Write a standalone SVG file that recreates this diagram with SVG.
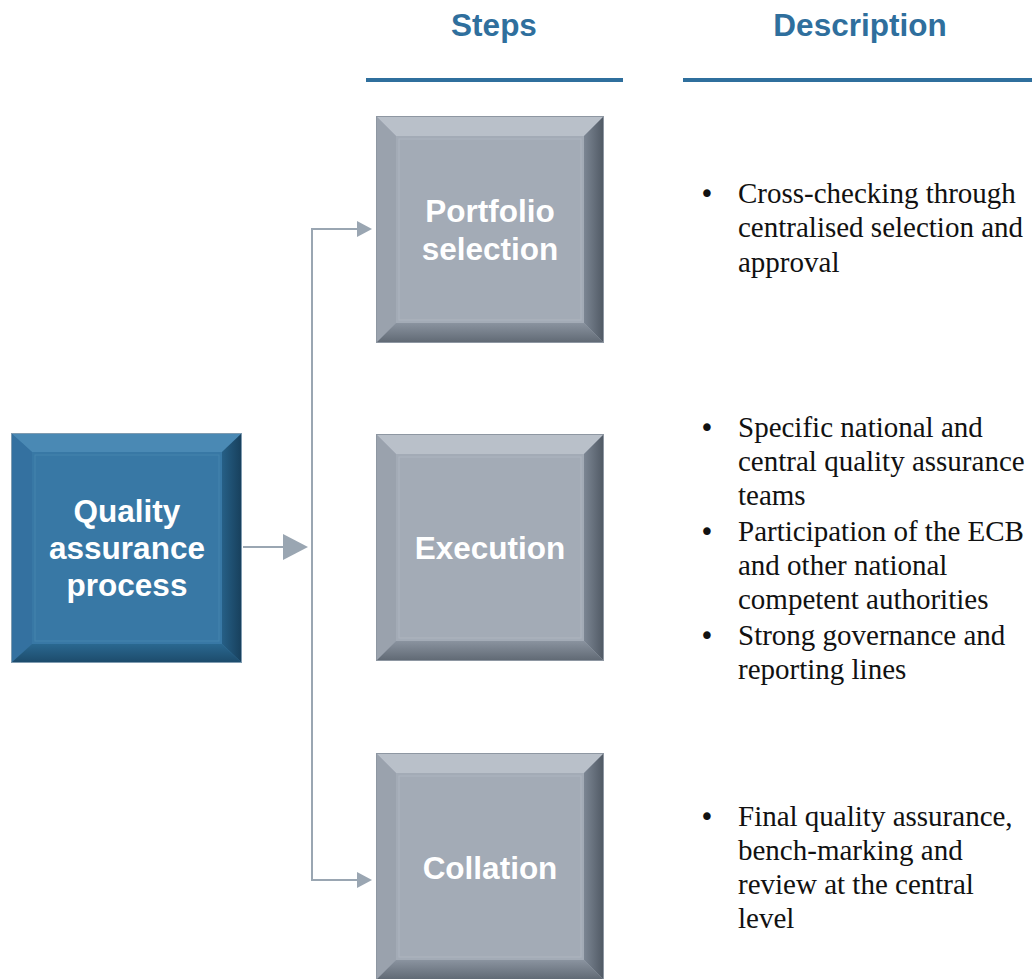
<svg xmlns="http://www.w3.org/2000/svg" width="1032" height="979" viewBox="0 0 1032 979">
<defs>
<style>
.hdr{font-family:"Liberation Sans",Arial,sans-serif;font-weight:bold;font-size:31.5px;fill:#2f6f9d;text-anchor:middle}
.lbl{font-family:"Liberation Sans",Arial,sans-serif;font-weight:bold;font-size:31.5px;fill:#ffffff;text-anchor:middle}
.desc{font-family:"Liberation Serif","Times New Roman",serif;font-size:29px;fill:#111111}
.bul{font-family:"DejaVu Sans",sans-serif;font-size:26px;fill:#111111;text-anchor:middle}
.conn{stroke:#9aa6b2;stroke-width:2;fill:none}
.head{fill:#9aa6b2}
</style>
<linearGradient id="gR" x1="0" y1="0" x2="1" y2="0"><stop offset="0" stop-color="#7c8693"/><stop offset="1" stop-color="#4f5863"/></linearGradient>
<linearGradient id="gB" x1="0" y1="0" x2="0" y2="1"><stop offset="0" stop-color="#8a939f"/><stop offset="1" stop-color="#5f6873"/></linearGradient>
<linearGradient id="bR" x1="0" y1="0" x2="1" y2="0"><stop offset="0" stop-color="#265f86"/><stop offset="1" stop-color="#173f5b"/></linearGradient>
<linearGradient id="bB" x1="0" y1="0" x2="0" y2="1"><stop offset="0" stop-color="#2a6890"/><stop offset="1" stop-color="#1c4a6a"/></linearGradient>
<g id="grayBox">
<rect x="0" y="0" width="228" height="227" fill="#a3abb6"/>
<polygon points="0,0 228,0 208,20 20,20" fill="#b9c0c9"/>
<polygon points="0,0 20,20 20,207 0,227" fill="#9aa2ad"/>
<polygon points="228,0 228,227 208,207 208,20" fill="url(#gR)"/>
<polygon points="0,227 20,207 208,207 228,227" fill="url(#gB)"/>
<rect x="20" y="20" width="188" height="187" fill="#a3abb6"/>
<rect x="23" y="23" width="182" height="181" fill="none" stroke="#aeb5bf" stroke-width="1"/>
<rect x="0.5" y="0.5" width="227" height="226" fill="none" stroke="#8e97a2" stroke-width="1"/>
</g>
</defs>
<rect width="1032" height="979" fill="#ffffff"/>
<g id="headers">
<text class="hdr" x="494" y="36">Steps</text>
<text class="hdr" x="860" y="36">Description</text>
<rect x="366" y="78" width="257" height="4" fill="#2f6f9d"/>
<rect x="683" y="78" width="349" height="4" fill="#2f6f9d"/>
</g>
<g id="connectors">
<line class="conn" x1="243" y1="547" x2="285" y2="547"/>
<polygon class="head" points="283,534 308,547 283,560"/>
<polyline class="conn" points="358,229 312,229 312,880 358,880"/>
<polygon class="head" points="357,221 372,229 357,237"/>
<polygon class="head" points="357,872 372,880 357,888"/>
</g>
<g id="node-quality">
<rect x="11" y="433" width="231" height="230" fill="#3878a5"/>
<polygon points="11,433 242,433 222,452 32,452" fill="#4a89b4"/>
<polygon points="11,433 32,452 32,644 11,663" fill="#3471a0"/>
<polygon points="242,433 242,663 222,644 222,452" fill="url(#bR)"/>
<polygon points="11,663 32,644 222,644 242,663" fill="url(#bB)"/>
<rect x="32" y="452" width="190" height="192" fill="#3878a5"/>
<rect x="35" y="455" width="184" height="186" fill="none" stroke="#4584ae" stroke-width="1"/>
<rect x="11.5" y="433.5" width="230" height="229" fill="none" stroke="#7f9bb0" stroke-width="1"/>
<text class="lbl" x="127" y="522">Quality</text>
<text class="lbl" x="127" y="559">assurance</text>
<text class="lbl" x="127" y="596">process</text>
</g>
<g id="node-portfolio">
<use href="#grayBox" x="376" y="116"/>
<text class="lbl" x="490" y="222">Portfolio</text>
<text class="lbl" x="490" y="260">selection</text>
</g>
<g id="node-execution">
<use href="#grayBox" x="376" y="434"/>
<text class="lbl" x="490" y="559">Execution</text>
</g>
<g id="node-collation">
<use href="#grayBox" x="376" y="753"/>
<text class="lbl" x="490" y="879">Collation</text>
</g>
<g id="desc-portfolio" class="desc">
<text class="bul" x="707" y="203">•</text>
<text x="738" y="203">Cross-checking through</text>
<text x="738" y="237">centralised selection and</text>
<text x="738" y="272">approval</text>
</g>
<g id="desc-execution" class="desc">
<text class="bul" x="707" y="437">•</text>
<text x="738" y="437">Specific national and</text>
<text x="738" y="471">central quality assurance</text>
<text x="738" y="505">teams</text>
<text class="bul" x="707" y="541">•</text>
<text x="738" y="541">Participation of the ECB</text>
<text x="738" y="575">and other national</text>
<text x="738" y="609">competent authorities</text>
<text class="bul" x="707" y="645">•</text>
<text x="738" y="645">Strong governance and</text>
<text x="738" y="679">reporting lines</text>
</g>
<g id="desc-collation" class="desc">
<text class="bul" x="707" y="826">•</text>
<text x="738" y="826">Final quality assurance,</text>
<text x="738" y="860">bench-marking and</text>
<text x="738" y="894">review at the central</text>
<text x="738" y="928">level</text>
</g>
</svg>
